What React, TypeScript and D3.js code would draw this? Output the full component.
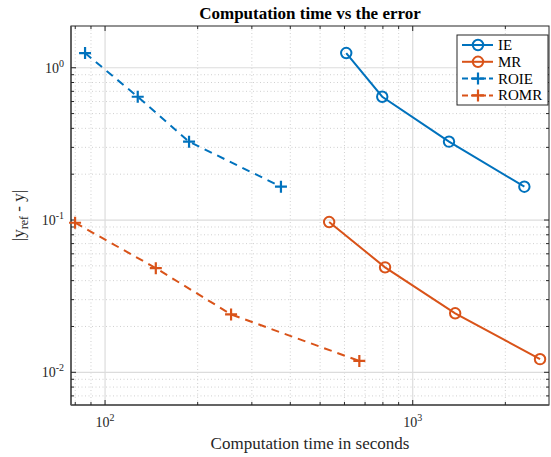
import React from 'react';
import * as d3 from 'd3';

// (log-log)
const timeIE = [608, 796, 1312, 2306];
const errIE = [1.249, 0.645, 0.327, 0.1655];
const timeMR = [535, 813, 1374, 2593];
const errMR = [0.097, 0.0489, 0.0244, 0.0122];
const timeROIE = [86.1, 127.7, 187.5, 373];
const errROIE = [1.249, 0.645, 0.327, 0.1655];
const timeROMR = [79.9, 146.2, 256.8, 670.6];
const errROMR = [0.096, 0.0483, 0.024, 0.01187];

const seriesNames = ['IE', 'MR', 'ROIE', 'ROMR'];
const xDomain = [77.5, 2773];
const yDomain = [0.0061, 1.88];

const blue = '#0072BD';
const orange = '#D95319';

const App = () => {
  const width = 551;
  const height = 457;
  const margin = { top: 26, right: 2, bottom: 52, left: 71 };
  const x0 = margin.left;
  const x1 = width - margin.right;
  const y0 = margin.top;
  const y1 = height - margin.bottom;

  const xScale = d3.scaleLog().domain(xDomain).range([x0, x1]);
  const yScale = d3.scaleLog().domain(yDomain).range([y1, y0]);

  const isMajor = (v: number) => Math.abs(Math.log10(v) - Math.round(Math.log10(v))) < 1e-6;
  const xTicks = xScale.ticks();
  const yTicks = yScale.ticks();

  const series = [
    { name: seriesNames[0], xs: timeIE, ys: errIE, color: blue, dash: null, marker: 'o' },
    { name: seriesNames[1], xs: timeMR, ys: errMR, color: orange, dash: null, marker: 'o' },
    { name: seriesNames[2], xs: timeROIE, ys: errROIE, color: blue, dash: '8,6', marker: '+' },
    { name: seriesNames[3], xs: timeROMR, ys: errROMR, color: orange, dash: '8,6', marker: '+' },
  ];

  const line = d3.line<[number, number]>()
    .x(d => xScale(d[0]))
    .y(d => yScale(d[1]));

  const marker = (m: string, cx: number, cy: number, color: string, key: any) =>
    m === 'o'
      ? <circle key={key} cx={cx} cy={cy} r={5.2} fill='none' stroke={color} strokeWidth={2} />
      : <path key={key} d={`M${cx - 6},${cy}H${cx + 6}M${cx},${cy - 6}V${cy + 6}`} stroke={color} strokeWidth={2.2} />;

  const font = '"Liberation Serif", "Times New Roman", serif';
  const axisColor = '#262626';

  const legend = { x: 457, y: 35, w: 91, h: 70 };

  return (
    <svg width={width} height={height} style={{ position: 'absolute', left: 0, top: 0, background: 'white' }} fontFamily={font}>
      <rect x={0} y={0} width={width} height={height} fill='white' />
      {/* grid */}
      {xTicks.map((t, i) => (
        isMajor(t)
          ? <line key={'gx' + i} x1={xScale(t)} x2={xScale(t)} y1={y0} y2={y1} stroke='#dcdcdc' strokeWidth={1.2} />
          : <line key={'gx' + i} x1={xScale(t)} x2={xScale(t)} y1={y0} y2={y1} stroke='#c4c4c4' strokeWidth={0.8} strokeDasharray='1,2.5' />
      ))}
      {yTicks.map((t, i) => (
        isMajor(t)
          ? <line key={'gy' + i} x1={x0} x2={x1} y1={yScale(t)} y2={yScale(t)} stroke='#dcdcdc' strokeWidth={1.2} />
          : <line key={'gy' + i} x1={x0} x2={x1} y1={yScale(t)} y2={yScale(t)} stroke='#c4c4c4' strokeWidth={0.8} strokeDasharray='1,2.5' />
      ))}

      {/* box + ticks */}
      <rect x={x0} y={y0} width={x1 - x0} height={y1 - y0} fill='none' stroke={axisColor} strokeWidth={1} />
      <line x1={x0} x2={x0} y1={y0} y2={y1} stroke='#555' strokeWidth={1.6} />
      <line x1={x0} x2={x1} y1={y1} y2={y1} stroke='#555' strokeWidth={1.6} />
      {xTicks.map((t, i) => {
        const len = isMajor(t) ? 5 : 3;
        const xx = xScale(t);
        return (
          <g key={'tx' + i} stroke={axisColor} strokeWidth={1}>
            <line x1={xx} x2={xx} y1={y1} y2={y1 - len} />
            <line x1={xx} x2={xx} y1={y0} y2={y0 + len} />
          </g>
        );
      })}
      {yTicks.map((t, i) => {
        const len = isMajor(t) ? 5 : 3;
        const yy = yScale(t);
        return (
          <g key={'ty' + i} stroke={axisColor} strokeWidth={1}>
            <line x1={x0} x2={x0 + len} y1={yy} y2={yy} />
            <line x1={x1} x2={x1 - len} y1={yy} y2={yy} />
          </g>
        );
      })}

      {/* tick labels */}
      {xTicks.filter(isMajor).map((t, i) => (
        <text key={'lx' + i} x={xScale(t)} y={y1 + 22} textAnchor='middle' fontSize={14} fill={axisColor}>
          <tspan>10</tspan>
          <tspan dy={-6} fontSize={10}>{Math.round(Math.log10(t))}</tspan>
        </text>
      ))}
      {yTicks.filter(isMajor).map((t, i) => (
        <text key={'ly' + i} x={x0 - 7} y={yScale(t) + 5} textAnchor='end' fontSize={14} fill={axisColor}>
          <tspan>10</tspan>
          <tspan dy={-6} fontSize={10}>{Math.round(Math.log10(t))}</tspan>
        </text>
      ))}

      {/* series */}
      {series.map((s, si) => {
        const pts = s.xs.map((v, i) => [v, s.ys[i]] as [number, number]);
        return (
          <g key={'s' + si}>
            <path d={line(pts) || ''} fill='none' stroke={s.color} strokeWidth={2} strokeDasharray={s.dash || undefined} />
            {pts.map((p, i) => marker(s.marker, xScale(p[0]), yScale(p[1]), s.color, i))}
          </g>
        );
      })}

      {/* title and labels */}
      <text x={(x0 + x1) / 2} y={19} textAnchor='middle' fontSize={17} fontWeight='bold' fill='#000'>
        Computation time vs the error
      </text>
      <text x={(x0 + x1) / 2} y={y1 + 44} textAnchor='middle' fontSize={17} fill={axisColor}>
        Computation time in seconds
      </text>
      <text transform={`translate(24, ${(y0 + y1) / 2}) rotate(-90)`} textAnchor='middle' fontSize={17} fill={axisColor}>
        <tspan>|y</tspan>
        <tspan dy={4} fontSize={12}>ref</tspan>
        <tspan dy={-4}> - y|</tspan>
      </text>

      {/* legend */}
      <rect x={legend.x} y={legend.y} width={legend.w} height={legend.h} fill='white' stroke={axisColor} strokeWidth={1} />
      {series.map((s, i) => {
        const ly = 45 + i * 16.8;
        return (
          <g key={'lg' + i}>
            <line x1={462} x2={493} y1={ly} y2={ly} stroke={s.color} strokeWidth={2} strokeDasharray={s.dash ? '6,3' : undefined} />
            {marker(s.marker, 478, ly, s.color, 'm')}
            <text x={498} y={ly + 5} fontSize={15} fill='#000'>{s.name}</text>
          </g>
        );
      })}
    </svg>
  );
};

export default App;
